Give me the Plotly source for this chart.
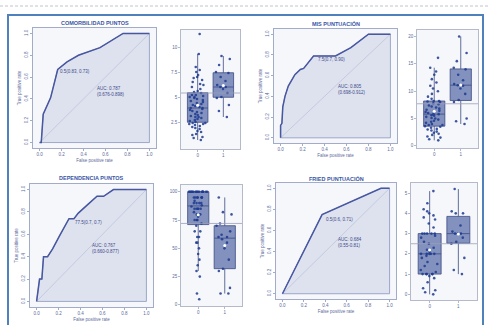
import plotly.graph_objects as go
import numpy as np

W, H = 488, 325

# ---------------- data ----------------
titles = ["COMORBILIDAD PUNTOS", "MIS PUNTUACIÓN", "DEPENDENCIA PUNTOS", "FRIED PUNTUACIÓN"]

roc1_fpr = [0, 0.015, 0.033, 0.10, 0.165, 0.25, 0.354, 0.55, 0.76, 1.0]
roc1_tpr = [0, 0, 0.26, 0.41, 0.67, 0.74, 0.80, 0.87, 1.0, 1.0]
roc2_fpr = [0, 0, 0.012, 0.02, 0.04, 0.07, 0.13, 0.18, 0.21, 0.30, 0.50, 0.64, 0.80, 1.0]
roc2_tpr = [0, 0.12, 0.14, 0.30, 0.40, 0.50, 0.61, 0.66, 0.67, 0.79, 0.79, 0.87, 1.0, 1.0]
roc3_fpr = [0, 0.018, 0.027, 0.048, 0.063, 0.10, 0.146, 0.205, 0.295, 0.34, 0.38, 0.47, 0.55, 0.61, 0.70, 1.0]
roc3_tpr = [0, 0.11, 0.20, 0.20, 0.40, 0.40, 0.47, 0.58, 0.74, 0.74, 0.79, 0.87, 0.94, 0.94, 1.0, 1.0]
roc4_fpr = [0, 0.37, 0.92, 1.0]
roc4_tpr = [0, 0.75, 1.0, 1.0]

cut_labels = ["0.5(0.83, 0.73)", "7.5(0.7, 0.90)", "77.5(0.7, 0.7)", "0.5(0.6, 0.71)"]
auc_labels = ["AUC: 0.787<br>(0.676-0.898)", "AUC: 0.805<br>(0.698-0.912)",
              "AUC: 0.767<br>(0.660-0.877)", "AUC: 0.684<br>(0.55-0.81)"]

roc_ticks = [0.0, 0.2, 0.4, 0.6, 0.8, 1.0]
roc_ticklabels = ["0.0", "0.2", "0.4", "0.6", "0.8", "1.0"]

box1_g0 = [0.7, 0.9, 1.0, 1.2, 1.3, 1.5, 1.6, 1.8, 1.9, 2.0, 2.1, 2.2, 2.3, 2.3, 2.4, 2.4, 2.5,
           2.6, 2.7, 2.8, 2.9, 3.0, 3.0, 3.1, 3.2, 3.3, 3.4, 3.5, 3.6, 3.7, 3.8, 3.9, 3.9, 4.0,
           4.1, 4.2, 4.3, 4.4, 4.5, 4.6, 4.7, 4.8, 4.9, 5.0, 5.0, 5.1, 5.2, 5.2, 5.4, 5.5, 5.6,
           5.8, 6.0, 6.2, 6.3, 6.5, 6.7, 6.9, 7.0, 7.2, 7.5, 7.7, 8.0, 9.3, 11.3]
box1_g1 = [3.0, 3.6, 4.2, 4.9, 5.0, 5.4, 5.8, 6.0, 6.0, 6.2, 6.6, 7.0, 7.4, 7.5, 8.2, 8.8, 9.1]
box2_g0 = [1.0, 1.2, 1.5, 1.7, 2.0, 2.2, 2.4, 2.6, 2.8, 3.0, 3.1, 3.3, 3.5, 3.6, 3.8, 3.8,
           4.0, 4.2, 4.4, 4.6, 4.8, 5.0, 5.1, 5.3, 5.5, 5.6, 5.8, 5.8, 6.0, 6.2, 6.4, 6.6, 6.8,
           7.0, 7.2, 7.4, 7.6, 7.8, 8.0, 8.1, 8.2, 8.2, 8.6, 9.0, 9.5, 10.0, 10.5, 11.0, 11.6,
           12.2, 13.0, 13.6, 14.3, 16.1]
box2_g1 = [4.0, 4.5, 5.0, 8.0, 8.4, 9.5, 10.5, 11.0, 11.1, 11.3, 12.0, 13.0, 14.0, 14.3, 15.5, 17.0, 20.0]
box3_g0 = [5, 10, 25, 30, 35, 40, 45, 50, 55, 55, 60, 60, 65, 65, 70,
           72, 75, 75, 75, 78, 80, 80, 80, 82, 85, 85, 85, 85, 85, 87,
           88, 90, 90, 90, 90, 92, 95, 95, 95, 95, 95, 95, 95,
           100, 100, 100, 100, 100, 100, 100, 100, 100, 100, 100, 100, 100, 100, 100, 100, 100]
box3_g1 = [10, 10, 15, 30, 32, 40, 50, 55, 58, 60, 60, 62, 65, 70, 72, 80, 82, 95]
box4_g0 = [0.0, 0.1, 0.2, 0.3, 0.6, 0.8, 0.9, 1.0, 1.0, 1.0, 1.0, 1.0, 1.1, 1.2, 1.4, 1.5, 1.6,
           1.8, 1.9, 2.0, 2.0, 2.0, 2.0, 2.0, 2.1, 2.2, 2.3, 2.5, 2.6, 2.8, 2.9, 3.0, 3.0, 3.0,
           3.0, 3.0, 3.3, 3.5, 3.7, 3.8, 3.9, 4.0, 4.1, 4.2, 4.5, 5.1]
box4_g1 = [1.0, 1.2, 1.8, 2.5, 2.6, 2.8, 3.0, 3.0, 3.0, 3.1, 3.4, 4.0, 4.0, 4.1, 5.2]

box_ref = [5.4, 7.7, 72, 2.5]
box_groups = ["0", "1"]
box1_ticks = [2.5, 5.0, 7.5, 10.0]
box2_ticks = [0, 5, 10, 15, 20]
box3_ticks = [0, 25, 50, 75, 100]
box4_ticks = [0, 1, 2, 3, 4, 5]

# ---------------- layout helpers ----------------
def fx(p):
    return p / W

def fy(p):
    return 1 - p / H

rocs = [(roc1_fpr, roc1_tpr), (roc2_fpr, roc2_tpr), (roc3_fpr, roc3_tpr), (roc4_fpr, roc4_tpr)]
boxes = [(box1_g0, box1_g1), (box2_g0, box2_g1), (box3_g0, box3_g1), (box4_g0, box4_g1)]
box_ticks = [box1_ticks, box2_ticks, box3_ticks, box4_ticks]
box_ranges = [[-0.2, 11.7], [-0.4, 21.2], [-1, 106], [-0.28, 5.5]]
roc_frames = [(33, 156, 28, 148), (274, 397, 29, 143), (30, 153, 184, 307), (276, 396, 183, 299)]
box_frames = [(181, 240, 30, 149), (417, 478, 30, 148), (181, 242, 185, 306), (411, 477, 183, 300)]
title_y = [23, 23, 178, 178]
cut_pos = [(0.17, 0.65), (0.32, 0.76), (0.33, 0.71), (0.39, 0.70)]
auc_pos = [(0.50, 0.47), (0.50, 0.47), (0.49, 0.47), (0.50, 0.49)]

LINE = "#4757a0"
FRAME = "#a3abca"
TXT = "#5d6a9c"
TFONT = dict(family="Liberation Sans, Arial", size=4.5, color=TXT)

fig = go.Figure()
layout = {}
annotations = []
shapes = []

for i in range(4):
    xa = f"x{2*i+1}"
    ya = f"y{2*i+1}"
    xb = f"x{2*i+2}"
    yb = f"y{2*i+2}"
    fpr, tpr = rocs[i]
    fig.add_trace(go.Scatter(x=list(fpr) + [1.0, 0.0], y=list(tpr) + [0.0, 0.0], fill="toself",
                             fillcolor="#dde2ee", mode="lines", line=dict(color="#8a96c2", width=0.8),
                             xaxis=xa, yaxis=ya, hoverinfo="skip", showlegend=False))
    fig.add_trace(go.Scatter(x=[0, 1], y=[0, 1], mode="lines", line=dict(color="#b9c0da", width=0.7),
                             xaxis=xa, yaxis=ya, hoverinfo="skip", showlegend=False))
    fig.add_trace(go.Scatter(x=fpr, y=tpr, mode="lines", line=dict(color=LINE, width=1.5),
                             xaxis=xa, yaxis=ya, showlegend=False))
    l, r, t, b = roc_frames[i]
    common = dict(showline=True, mirror=True, linecolor=FRAME, linewidth=0.8, ticks="outside",
                  ticklen=2, tickwidth=0.6, tickcolor=FRAME, showgrid=False, zeroline=False,
                  tickfont=TFONT, tickvals=roc_ticks, ticktext=roc_ticklabels)
    layout[f"xaxis{2*i+1}"] = dict(domain=[fx(l), fx(r)], anchor=ya, range=[-0.06, 1.06],
                                   title=dict(text="False positive rate", font=TFONT, standoff=2),
                                   **common)
    layout[f"yaxis{2*i+1}"] = dict(domain=[fy(b), fy(t)], anchor=xa, range=[-0.05, 1.05],
                                   tickangle=-90,
                                   title=dict(text="True positive rate", font=TFONT, standoff=2),
                                   **common)
    annotations.append(dict(x=fx((l + r) / 2), y=fy(title_y[i]), xref="paper", yref="paper",
                            xanchor="center", yanchor="middle",
                            text=f"<b>{titles[i]}</b>", showarrow=False,
                            font=dict(family="Liberation Sans, Arial", size=5.5, color="#3a55a6")))
    annotations.append(dict(x=cut_pos[i][0], y=cut_pos[i][1], xref=xa, yref=ya, text=cut_labels[i],
                            showarrow=False, xanchor="left", yanchor="middle",
                            font=dict(family="Liberation Sans, Arial", size=4.5, color="#3d4a8a")))
    annotations.append(dict(x=auc_pos[i][0], y=auc_pos[i][1], xref=xa, yref=ya, text=auc_labels[i],
                            showarrow=False, xanchor="left", yanchor="middle", align="left",
                            font=dict(family="Liberation Sans, Arial", size=4.5, color="#3d4a8a")))

    for gi, vals in enumerate(boxes[i]):
        fig.add_trace(go.Box(y=vals, x=[gi] * len(vals), width=0.8, boxpoints="all", jitter=0.9,
                             pointpos=0, fillcolor="rgba(98,117,172,0.78)",
                             line=dict(color="#3c4b85", width=0.8), whiskerwidth=0,
                             marker=dict(color="#1d3a8f", size=2.6, opacity=0.85),
                             xaxis=xb, yaxis=yb, showlegend=False))
        fig.add_trace(go.Scatter(x=[gi], y=[float(np.mean(vals))], mode="markers",
                                 marker=dict(color="white", size=3),
                                 xaxis=xb, yaxis=yb, showlegend=False, hoverinfo="skip"))
    l, r, t, b = box_frames[i]
    layout[f"xaxis{2*i+2}"] = dict(domain=[fx(l), fx(r)], anchor=yb, range=[-0.65, 1.65],
                                   showline=True, mirror=True, linecolor="#b5bacb", linewidth=0.8,
                                   ticks="outside", ticklen=2, tickwidth=0.6, tickcolor="#b5bacb",
                                   tickvals=[0, 1], ticktext=box_groups, tickfont=TFONT,
                                   showgrid=False, zeroline=False)
    layout[f"yaxis{2*i+2}"] = dict(domain=[fy(b), fy(t)], anchor=xb, range=box_ranges[i],
                                   showline=True, mirror=True, linecolor="#b5bacb", linewidth=0.8,
                                   ticks="outside", ticklen=2, tickwidth=0.6, tickcolor="#b5bacb",
                                   tickvals=box_ticks[i], tickfont=TFONT,
                                   showgrid=False, zeroline=False)
    shapes.append(dict(type="line", xref=f"{xb} domain", yref=yb, x0=0, x1=1,
                       y0=box_ref[i], y1=box_ref[i], line=dict(color="#9aa0b8", width=0.8)))

shapes.append(dict(type="rect", xref="paper", yref="paper", x0=fx(8), x1=fx(483), y0=fy(335), y1=fy(15),
                   line=dict(color="#4f81bd", width=2), layer="below"))
shapes.append(dict(type="line", xref="paper", yref="paper", x0=0, x1=1, y0=fy(6), y1=fy(6),
                   line=dict(color="#b0b4ba", width=0.8, dash="3px,2px")))

fig.update_layout(width=W, height=H, margin=dict(l=0, r=0, t=0, b=0),
                  paper_bgcolor="white", plot_bgcolor="#f6f7fa",
                  annotations=annotations, shapes=shapes, boxmode="overlay", **layout)

fig.write_html("out.html", config={"displayModeBar": False},
               post_script="document.body.style.margin='0';document.body.style.padding='0';"
                           "document.body.style.overflow='hidden';")
